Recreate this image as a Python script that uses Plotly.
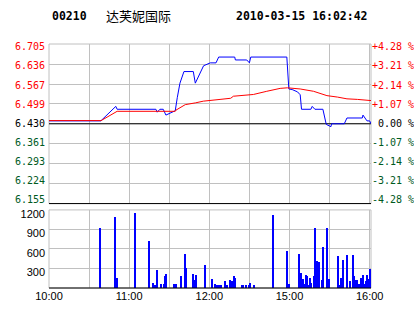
import plotly.graph_objects as go

# ---------------- data ----------------
stock_code = "00210"
stock_name = "达芙妮国际"
stamp = "2010-03-15 16:02:42"
prev_close = 6.430

# minutes of trading since 10:00 (lunch break removed)
price_minute = [0, 38.8, 50, 51, 80, 81, 83, 85.5, 87.5, 91, 94.5, 96, 98, 101, 108,
                109.5, 115.7, 120.7, 125, 127, 139, 139.5, 148, 150, 151, 178, 179.5,
                182, 186, 188, 189, 196, 197, 199, 205, 207.5, 211, 211.5, 221, 223,
                234.5, 235, 238, 240, 241]
price_value = [6.44, 6.44, 6.49, 6.48, 6.48, 6.47, 6.48, 6.48, 6.46, 6.468, 6.475,
               6.52, 6.57, 6.61, 6.61, 6.57, 6.63, 6.64, 6.64, 6.66, 6.66, 6.65, 6.65,
               6.64, 6.66, 6.66, 6.55, 6.548, 6.54, 6.53, 6.48, 6.48, 6.49, 6.48,
               6.48, 6.428, 6.42, 6.43, 6.43, 6.45, 6.45, 6.46, 6.44, 6.44, 6.43]

avg_minute = [0, 39, 51, 94.5, 95, 98, 102, 109.5, 115.5, 128, 136, 138, 153, 163,
              173, 178.5, 188, 198, 208, 216, 223, 231, 241]
avg_value = [6.441, 6.441, 6.473, 6.473, 6.477, 6.486, 6.496, 6.502, 6.508, 6.514,
             6.518, 6.525, 6.531, 6.542, 6.552, 6.554, 6.550, 6.542, 6.527, 6.522,
             6.516, 6.514, 6.510]

vol_minute = [38.5, 49.7, 51.2, 64.7, 75.2, 78.2, 79.7, 81.2, 83.5, 85.7, 86.5, 87.2,
              93.2, 94.7, 98.5, 101.5, 102.2, 107.5, 108.2, 109.7, 116.5, 121.7, 124.0,
              125.5, 127.0, 128.5, 131.5, 133.0, 135.2, 136.0, 137.5, 138.2, 139.0,
              144.2, 145.0, 147.2, 149.5, 150.2, 153.2, 167.5, 178.0, 179.5, 187.0,
              188.5, 189.2, 190.0, 191.5, 192.2, 193.0, 194.5, 195.2, 196.0, 198.2,
              199.0, 200.5, 202.0, 204.2, 205.0, 208.0, 209.5, 216.2, 217.0, 218.5,
              220.0, 223.0, 225.2, 227.5, 228.2, 229.0, 230.5, 232.0, 233.5, 235.0,
              235.7, 237.2, 238.0, 239.5, 240.2, 241.0]
vol_value = [920, 1100, 150, 1150, 720, 85, 50, 280, 65, 65, 186, 216,
             65, 65, 186, 520, 307, 216, 126, 201, 352, 141, 65,
             50, 50, 50, 110, 50, 126, 110, 110, 186, 156,
             50, 50, 50, 50, 80, 50, 1130, 564, 65, 520,
             231, 141, 141, 65, 201, 186, 50, 156, 80, 186,
             927, 413, 398, 126, 625, 927, 141, 489, 50, 156,
             428, 504, 110, 504, 186, 126, 126, 65, 156, 201,
             65, 110, 201, 141, 292, 141]

price_ticks = [6.705, 6.636, 6.567, 6.499, 6.430, 6.361, 6.293, 6.224, 6.155]
pct_labels = ["+4.28 %", "+3.21 %", "+2.14 %", "+1.07 %", "\u00a00.00 %",
              "-1.07 %", "-2.14 %", "-3.21 %", "-4.28 %"]
time_ticks = [0, 30, 60, 90, 120, 150, 180, 210, 240]
time_labels = ["10:00", "", "11:00", "", "12:00", "", "15:00", "", "16:00"]
vol_ticks = [300, 600, 900, 1200]

# ---------------- styling ----------------
RED = "#FF0000"
GREEN = "#005A1E"
GRID = "#C0C0C0"
MONO = "DejaVu Sans Mono"
X_RANGE = [0, 241]


def colour_for(v):
    if abs(v - prev_close) < 1e-9:
        return "#000000"
    return RED if v > prev_close else GREEN


price_text = ['<span style="color:%s">%.3f</span>' % (colour_for(v), v) for v in price_ticks]
pct_text = ['<span style="color:%s">%s</span>' % (colour_for(v), t)
            for v, t in zip(price_ticks, pct_labels)]

fig = go.Figure()
# previous close reference line (under the price lines, above the grid)
fig.add_trace(go.Scatter(x=X_RANGE, y=[prev_close, prev_close], mode="lines",
                         line=dict(color="#000000", width=1), xaxis="x", yaxis="y",
                         hoverinfo="skip"))
fig.add_trace(go.Scatter(x=price_minute, y=price_value, mode="lines",
                         line=dict(color="#0000FF", width=1), xaxis="x", yaxis="y",
                         hoverinfo="skip"))
fig.add_trace(go.Scatter(x=avg_minute, y=avg_value, mode="lines",
                         line=dict(color=RED, width=1), xaxis="x", yaxis="y",
                         hoverinfo="skip"))
fig.add_trace(go.Bar(x=vol_minute, y=vol_value, width=0.75,
                     marker=dict(color="#0000FF", line=dict(width=0)),
                     xaxis="x2", yaxis="y2", hoverinfo="skip"))
# carriers for the two label axes (draw nothing)
for ax in ("y3", "y4"):
    fig.add_trace(go.Scatter(x=[0] * len(price_ticks), y=price_ticks, mode="none",
                             xaxis="x", yaxis=ax, hoverinfo="skip"))

yr = [price_ticks[-1], price_ticks[0]]
# the label columns of the reference sit on a slightly tighter scale than the grid
label_range = [6.1421, 6.7147]
common_x = dict(range=X_RANGE, tickvals=time_ticks, showgrid=True, gridcolor=GRID,
                gridwidth=1, zeroline=False, ticks="", showline=False, fixedrange=True,
                automargin=False)
label_axis = dict(overlaying="y", anchor="x", range=label_range, tickvals=price_ticks,
                  showgrid=False, zeroline=False, ticks="", showline=False,
                  tickfont=dict(family=MONO, size=10), fixedrange=True, automargin=False)

fig.update_layout(
    width=414, height=314,
    margin=dict(l=49, r=43, t=44, b=26, autoexpand=False),
    paper_bgcolor="white", plot_bgcolor="white",
    showlegend=False, bargap=0,
    xaxis=dict(**common_x, domain=[0, 1], anchor="y", showticklabels=False),
    xaxis2=dict(**common_x, domain=[0, 1], anchor="y2", matches="x",
                ticktext=time_labels, showticklabels=True,
                tickfont=dict(family="Liberation Sans, Arial", size=11, color="#000000")),
    yaxis=dict(domain=[0.346, 1], range=yr, tickvals=price_ticks, showticklabels=False,
               showgrid=True, gridcolor=GRID, zeroline=False, ticks="", fixedrange=True,
               automargin=False),
    yaxis3=dict(**label_axis, side="left", ticktext=price_text, ticklabelstandoff=3),
    yaxis4=dict(**label_axis, side="right", ticktext=pct_text),
    yaxis2=dict(domain=[0, 0.320], range=[0, 1200], tickvals=vol_ticks,
                showgrid=True, gridcolor=GRID, zeroline=False, ticks="",
                tickfont=dict(family="Liberation Sans, Arial", size=11, color="#000000"),
                ticklabelstandoff=3, ticklabelshift=4, fixedrange=True, automargin=False),
    shapes=[
        dict(type="rect", xref="x domain", yref="y domain", x0=0, x1=1, y0=0, y1=1,
             line=dict(color=GRID, width=1), layer="below"),
        dict(type="rect", xref="x2 domain", yref="y2 domain", x0=0, x1=1, y0=0, y1=1,
             line=dict(color=GRID, width=1), layer="below"),
        dict(type="line", xref="x domain", yref="y domain", x0=0, x1=1, y0=0, y1=0,
             line=dict(color="#000000", width=1)),
        dict(type="line", xref="x2 domain", yref="y2 domain", x0=0, x1=1, y0=0, y1=0,
             line=dict(color="#000000", width=1)),
    ],
    annotations=[
        dict(text="<b>%s</b>" % stock_code, xref="paper", yref="paper", x=0.002, y=1.115,
             xanchor="left", yanchor="middle", showarrow=False,
             font=dict(family=MONO, size=11.5, color="#000000")),
        dict(text=stock_name, xref="paper", yref="paper", x=0.172, y=1.118,
             xanchor="left", yanchor="middle", showarrow=False,
             font=dict(family="Noto Sans CJK SC", size=13, color="#000000")),
        dict(text="<b>%s</b>" % stamp, xref="paper", yref="paper", x=0.997, y=1.115,
             xanchor="right", yanchor="middle", showarrow=False,
             font=dict(family=MONO, size=11.5, color="#000000")),
    ],
)

fig.write_html("out.html", config={"displayModeBar": False})
